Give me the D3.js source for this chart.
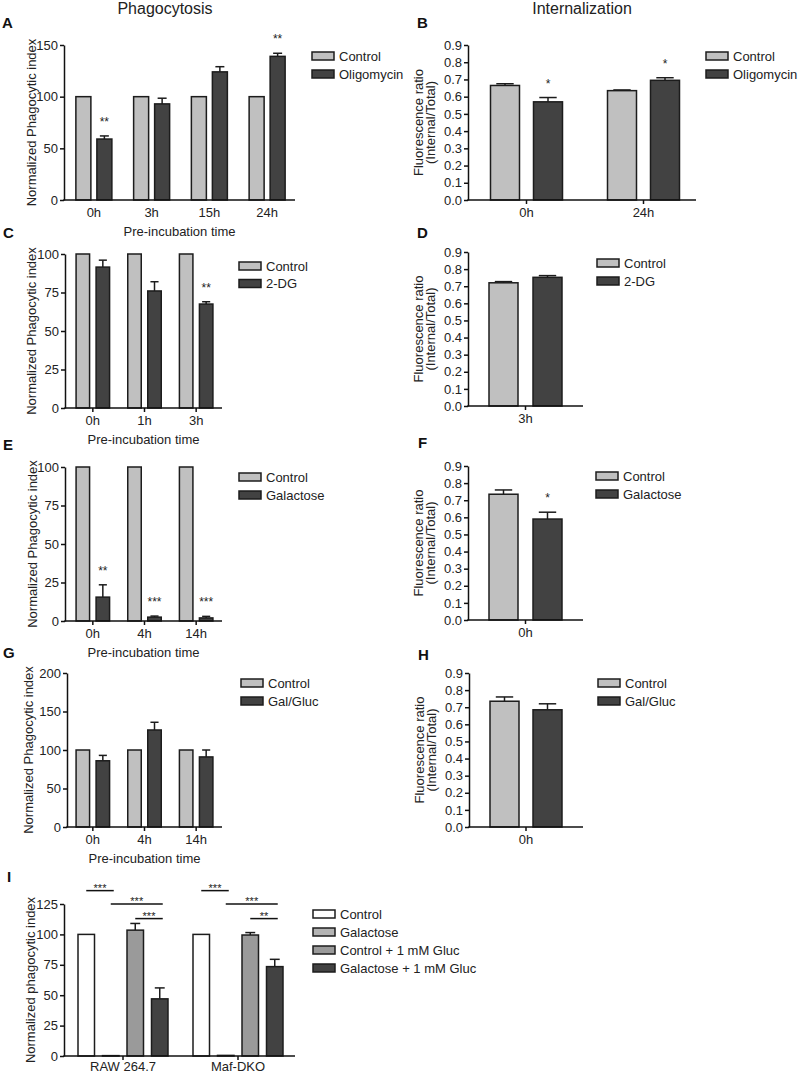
<!DOCTYPE html>
<html><head><meta charset="utf-8">
<script src="https://cdn.jsdelivr.net/npm/d3@7"></script>
<style>body{margin:0;background:#fff} svg{display:block;font-family:"Liberation Sans",Arial,sans-serif}</style>
</head><body><svg id="c" width="798" height="1076"></svg>
<script>
// ---------- DATA ----------
// Panel A
const catA = ["0h","3h","15h","24h"];
const ctrlA = [100,100,100,100];
const oligoA = [59,93,124,139];
const oligoAErr = [3,5.5,5,3];
const sigA = ["**","","","**"];
const ticksA = [0,50,100,150];
// Panel B
const catB = ["0h","24h"];
const ctrlB = [0.665,0.635];
const ctrlBErr = [0.01,0.004];
const oligoB = [0.57,0.695];
const oligoBErr = [0.025,0.015];
const sigB = ["*","*"];
const ticksRatio = [0,0.1,0.2,0.3,0.4,0.5,0.6,0.7,0.8,0.9];
// Panel C
const catC = ["0h","1h","3h"];
const ctrlC = [100,100,100];
const dgC = [91.5,76,67.5];
const dgCErr = [4.5,6,1.5];
const sigC = ["","","**"];
const ticksC = [0,25,50,75,100];
// Panel D
const catD = ["3h"];
const ctrlD = [0.72];
const ctrlDErr = [0.007];
const dgD = [0.752];
const dgDErr = [0.01];
// Panel E
const catE = ["0h","4h","14h"];
const ctrlE = [100,100,100];
const galE = [15.5,2.5,2];
const galEErr = [8,0.7,1];
const sigE = ["**","***","***"];
const ticksE = [0,25,50,75,100];
// Panel F
const catF = ["0h"];
const ctrlF = [0.735];
const ctrlFErr = [0.025];
const galF = [0.59];
const galFErr = [0.04];
const sigF = ["*"];
// Panel G
const catG = ["0h","4h","14h"];
const ctrlG = [100,100,100];
const ggG = [86,126,91];
const ggGErr = [7,10,9];
const ticksG = [0,50,100,150,200];
// Panel H
const catH = ["0h"];
const ctrlH = [0.735];
const ctrlHErr = [0.025];
const ggH = [0.685];
const ggHErr = [0.035];
// Panel I
const catI = ["RAW 264.7","Maf-DKO"];
const seriesI = ["Control","Galactose","Control + 1 mM Gluc","Galactose + 1 mM Gluc"];
const ctrlI = [100,100];
const galI = [0.3,0.5];
const ctrlGlucI = [103.5,99.5];
const ctrlGlucIErr = [5.5,2];
const galGlucI = [47,73.5];
const galGlucIErr = [9,6];
const ticksI = [0,25,50,75,100,125];
// comparisons: [cell line index, series a, series b, label, level value]
const compI = [
  [0,0,1,"***",136],[0,1,3,"***",125],[0,2,3,"***",113],
  [1,0,1,"***",136],[1,1,3,"***",125],[1,2,3,"**",113]
];

// ---------- DRAW ----------
const svg = d3.select("#c");
const CTRL = "#c0c0c0", DARK = "#424242", STROKE = "#1c1c1c", TXT = "#222";
const fmtRatio = d3.format(".1f");

function panel(o){
  const g = svg.append("g");
  const y = d3.scaleLinear().domain(o.domain).range([o.yBot, o.yTop]);
  const x = d3.scaleBand().domain(o.cats).range(o.band).paddingInner(0).paddingOuter(0);
  const n = o.series.length;
  const total = n*o.bw + (n-1)*o.gap;
  const sub = d3.scaleBand().domain(d3.range(n)).range([-total/2, total/2])
      .paddingInner(o.gap/(o.bw+o.gap)).paddingOuter(0);
  const centers = [];
  o.series.forEach((s, si) => {
    o.cats.forEach((c, i) => {
      const v = s.vals[i];
      const bx = x(c) + x.bandwidth()/2 + sub(si);
      const cx = bx + o.bw/2;
      centers.push({si, i, cx});
      const e = s.errs ? s.errs[i] : 0;
      if (e > 0) {
        g.append("line").attr("x1", cx).attr("x2", cx).attr("y1", y(v)).attr("y2", y(v+e))
          .attr("stroke", STROKE).attr("stroke-width", 1.5);
        g.append("line").attr("x1", cx - o.bw*0.3).attr("x2", cx + o.bw*0.3)
          .attr("y1", y(v+e)).attr("y2", y(v+e)).attr("stroke", STROKE).attr("stroke-width", 1.5);
      }
      g.append("rect").attr("x", bx).attr("width", o.bw)
        .attr("y", y(v)).attr("height", Math.max(0, y(0) - y(v)))
        .attr("fill", s.fill).attr("stroke", STROKE).attr("stroke-width", 1.5);
      if (s.sig && s.sig[i]) {
        g.append("text").attr("x", cx).attr("y", y(v + e) - 10)
          .attr("text-anchor", "middle").attr("font-size", 12).attr("fill", TXT).text(s.sig[i]);
      }
    });
  });
  // y axis
  const ya = g.append("g").attr("transform", `translate(${o.x0},0)`)
    .call(d3.axisLeft(y).tickValues(o.ticks).tickFormat(o.fmt || d3.format("d")).tickSize(4).tickSizeOuter(0));
  ya.attr("font-family", null).attr("font-size", null);
  ya.select(".domain").attr("stroke", "#111").attr("stroke-width", 1.5);
  ya.selectAll(".tick line").attr("stroke", "#111").attr("stroke-width", 1.5);
  ya.selectAll(".tick text").attr("font-size", 13).attr("fill", TXT).attr("x", -6);
  // x axis
  g.append("line").attr("x1", o.x0 - 0.75).attr("x2", o.axisEnd).attr("y1", o.yBot).attr("y2", o.yBot)
    .attr("stroke", "#111").attr("stroke-width", 1.5);
  const labDy = o.labDy || 17;
  o.cats.forEach(c => {
    const cx = x(c) + x.bandwidth()/2;
    if (o.xticks) g.append("line").attr("x1", cx).attr("x2", cx).attr("y1", o.yBot).attr("y2", o.yBot + 4)
      .attr("stroke", "#111").attr("stroke-width", 1.5);
    g.append("text").attr("x", cx).attr("y", o.yBot + labDy).attr("text-anchor", "middle")
      .attr("font-size", 13).attr("fill", TXT).text(c);
  });
  if (o.xTitle) g.append("text").attr("x", (o.x0 + o.axisEnd)/2).attr("y", o.yBot + 36)
    .attr("text-anchor", "middle").attr("font-size", 13).attr("fill", TXT).text(o.xTitle);
  // y label
  const ym = (o.yTop + o.yBot)/2;
  o.ylab.forEach((t, k) => {
    g.append("text").attr("transform", `translate(${o.ylabX[k]},${ym}) rotate(-90)`)
      .attr("text-anchor", "middle").attr("font-size", 13).attr("fill", TXT).text(t);
  });
  // legend
  o.series.forEach((s, si) => {
    const ly = o.leg[1] + si*o.leg[2];
    g.append("rect").attr("x", o.leg[0]).attr("y", ly).attr("width", 22).attr("height", 8)
      .attr("fill", s.fill).attr("stroke", STROKE).attr("stroke-width", 1.5);
    g.append("text").attr("x", o.leg[0] + 27).attr("y", ly + 8.6).attr("font-size", 13)
      .attr("fill", TXT).text(s.name);
  });
  // panel letter
  g.append("text").attr("x", o.letter[1]).attr("y", o.letter[2]).attr("font-size", 15)
    .attr("font-weight", "bold").attr("fill", "#111").text(o.letter[0]);
  return {g, x, y, sub, centers};
}

const phagoLab = ["Normalized Phagocytic index"];
const ratioLab = ["Fluorescence ratio", "(Internal/Total)"];

svg.append("text").attr("x", 165).attr("y", 14).attr("text-anchor", "middle")
  .attr("font-size", 16).attr("fill", TXT).text("Phagocytosis");
svg.append("text").attr("x", 582).attr("y", 14).attr("text-anchor", "middle")
  .attr("font-size", 16).attr("fill", TXT).text("Internalization");

panel({cats: catA, band: [65, 296], x0: 64, axisEnd: 295, yTop: 45, yBot: 200, domain: [0,150], ticks: ticksA,
  bw: 15, gap: 6, xticks: false, xTitle: "Pre-incubation time", ylab: phagoLab, ylabX: [35.5],
  leg: [312, 52, 18], letter: ["A", 2, 28],
  series: [{name: "Control", vals: ctrlA, fill: CTRL}, {name: "Oligomycin", vals: oligoA, errs: oligoAErr, sig: sigA, fill: DARK}]});

panel({cats: catB, band: [468, 702], x0: 468, axisEnd: 696, yTop: 45, yBot: 200, domain: [0,0.9], ticks: ticksRatio, fmt: fmtRatio,
  bw: 29, gap: 14, xticks: true, ylab: ratioLab, ylabX: [422.5, 434.5],
  leg: [706, 52, 18], letter: ["B", 417, 28],
  series: [{name: "Control", vals: ctrlB, errs: ctrlBErr, fill: CTRL}, {name: "Oligomycin", vals: oligoB, errs: oligoBErr, sig: sigB, fill: DARK}]});

panel({cats: catC, band: [67, 222], x0: 65, axisEnd: 222, yTop: 254, yBot: 408, domain: [0,100], ticks: ticksC,
  bw: 13.5, gap: 6.5, xticks: true, xTitle: "Pre-incubation time", ylab: phagoLab, ylabX: [35.5],
  leg: [239, 262, 17.5], letter: ["C", 3, 238],
  series: [{name: "Control", vals: ctrlC, fill: CTRL}, {name: "2-DG", vals: dgC, errs: dgCErr, sig: sigC, fill: DARK}]});

panel({cats: catD, band: [468, 583], x0: 468, axisEnd: 583, yTop: 252, yBot: 406, domain: [0,0.9], ticks: ticksRatio, fmt: fmtRatio,
  bw: 29, gap: 15, xticks: true, ylab: ratioLab, ylabX: [422.5, 434.5],
  leg: [597, 259, 18], letter: ["D", 417, 238],
  series: [{name: "Control", vals: ctrlD, errs: ctrlDErr, fill: CTRL}, {name: "2-DG", vals: dgD, errs: dgDErr, fill: DARK}]});

panel({cats: catE, band: [67, 222], x0: 65, axisEnd: 222, yTop: 467, yBot: 621, domain: [0,100], ticks: ticksE,
  bw: 13.5, gap: 6.5, xticks: true, xTitle: "Pre-incubation time", ylab: phagoLab, ylabX: [36.5],
  leg: [239, 473, 18], letter: ["E", 3, 450],
  series: [{name: "Control", vals: ctrlE, fill: CTRL}, {name: "Galactose", vals: galE, errs: galEErr, sig: sigE, fill: DARK}]});

panel({cats: catF, band: [468, 583], x0: 468, axisEnd: 583, yTop: 466, yBot: 620, domain: [0,0.9], ticks: ticksRatio, fmt: fmtRatio,
  bw: 29, gap: 15, xticks: true, ylab: ratioLab, ylabX: [422.5, 434.5],
  leg: [596, 472, 18], letter: ["F", 418, 448],
  series: [{name: "Control", vals: ctrlF, errs: ctrlFErr, fill: CTRL}, {name: "Galactose", vals: galF, errs: galFErr, sig: sigF, fill: DARK}]});

panel({cats: catG, band: [67, 222], x0: 67, axisEnd: 222, yTop: 673, yBot: 827, domain: [0,200], ticks: ticksG,
  bw: 13.5, gap: 6.5, xticks: true, xTitle: "Pre-incubation time", ylab: phagoLab, ylabX: [33],
  leg: [241, 679, 18], letter: ["G", 3, 658],
  series: [{name: "Control", vals: ctrlG, fill: CTRL}, {name: "Gal/Gluc", vals: ggG, errs: ggGErr, fill: DARK}]});

panel({cats: catH, band: [469, 583], x0: 469, axisEnd: 583, yTop: 673, yBot: 827, domain: [0,0.9], ticks: ticksRatio, fmt: fmtRatio,
  bw: 29, gap: 14, xticks: true, ylab: ratioLab, ylabX: [423.5, 435.5],
  leg: [598, 679, 18], letter: ["H", 418, 660],
  series: [{name: "Control", vals: ctrlH, errs: ctrlHErr, fill: CTRL}, {name: "Gal/Gluc", vals: ggH, errs: ggHErr, fill: DARK}]});

const pI = panel({cats: catI, band: [65.5, 295.5], x0: 64, axisEnd: 295, yTop: 904, yBot: 1056, domain: [0,125], ticks: ticksI,
  bw: 16.5, gap: 8, xticks: true, labDy: 15, ylab: ["Normalized phagocytic index"], ylabX: [35],
  leg: [313, 910, 18], letter: ["I", 7, 882],
  series: [
    {name: seriesI[0], vals: ctrlI, fill: "#ffffff"},
    {name: seriesI[1], vals: galI, fill: "#b4b4b4"},
    {name: seriesI[2], vals: ctrlGlucI, errs: ctrlGlucIErr, fill: "#9a9a9a"},
    {name: seriesI[3], vals: galGlucI, errs: galGlucIErr, fill: DARK}]});

compI.forEach(([ci, a, b, lab, lv]) => {
  const ca = pI.centers.find(d => d.si === a && d.i === ci).cx;
  const cb = pI.centers.find(d => d.si === b && d.i === ci).cx;
  const ly = pI.y(lv);
  pI.g.append("line").attr("x1", ca).attr("x2", cb + 3).attr("y1", ly).attr("y2", ly)
    .attr("stroke", "#111").attr("stroke-width", 1.5);
  pI.g.append("text").attr("x", (ca + cb + 3)/2).attr("y", ly + 1).attr("text-anchor", "middle")
    .attr("font-size", 11).attr("fill", TXT).text(lab);
});
</script></body></html>
